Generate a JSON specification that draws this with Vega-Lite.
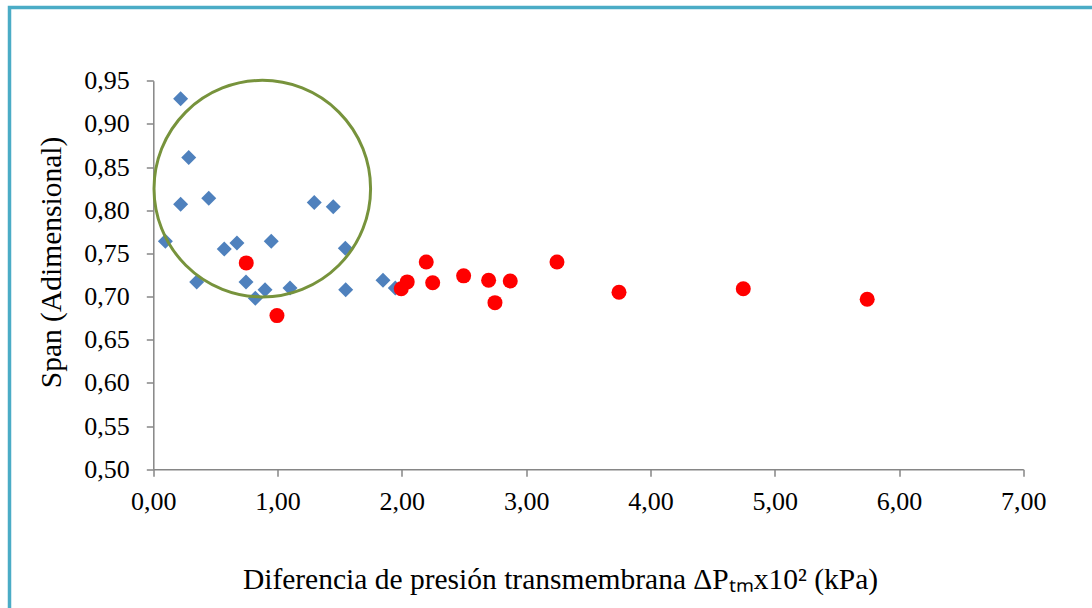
{
  "$schema": "https://vega.github.io/schema/vega-lite/v6.json",
  "width": 1100,
  "height": 620,
  "autosize": {"type": "none"},
  "padding": {"left": 9.5, "top": 7.5, "right": -17.5, "bottom": -19.5},
  "background": "white",
  "config": {
    "font": "Liberation Serif",
    "view": {"stroke": "#4BACC6", "strokeWidth": 3.5},
    "axis": {
      "grid": false,
      "domainColor": "#868686",
      "tickColor": "#868686",
      "domainWidth": 1.5,
      "tickWidth": 1.5,
      "tickSize": 7,
      "labelFont": "Liberation Serif",
      "labelFontSize": 26,
      "labelColor": "black",
      "titleFont": "Liberation Serif",
      "titleFontSize": 29.5,
      "titleFontWeight": "normal",
      "titleColor": "black",
      "labelOverlap": false,
      "labelFlush": false
    }
  },
  "datasets": {
    "puntos": [
      {"x": 0.22, "y": 0.929, "serie": "azul"},
      {"x": 0.285, "y": 0.861, "serie": "azul"},
      {"x": 0.22, "y": 0.807, "serie": "azul"},
      {"x": 0.446, "y": 0.814, "serie": "azul"},
      {"x": 0.097, "y": 0.764, "serie": "azul"},
      {"x": 0.571, "y": 0.755, "serie": "azul"},
      {"x": 0.673, "y": 0.762, "serie": "azul"},
      {"x": 0.949, "y": 0.764, "serie": "azul"},
      {"x": 1.295, "y": 0.809, "serie": "azul"},
      {"x": 1.448, "y": 0.804, "serie": "azul"},
      {"x": 1.545, "y": 0.756, "serie": "azul"},
      {"x": 0.349, "y": 0.717, "serie": "azul"},
      {"x": 0.746, "y": 0.717, "serie": "azul"},
      {"x": 0.821, "y": 0.698, "serie": "azul"},
      {"x": 0.899, "y": 0.708, "serie": "azul"},
      {"x": 1.1, "y": 0.71, "serie": "azul"},
      {"x": 1.548, "y": 0.708, "serie": "azul"},
      {"x": 1.848, "y": 0.719, "serie": "azul"},
      {"x": 1.947, "y": 0.71, "serie": "azul"},
      {"x": 0.748, "y": 0.739, "serie": "rojo"},
      {"x": 0.995, "y": 0.678, "serie": "rojo"},
      {"x": 1.995, "y": 0.709, "serie": "rojo"},
      {"x": 2.043, "y": 0.717, "serie": "rojo"},
      {"x": 2.196, "y": 0.74, "serie": "rojo"},
      {"x": 2.248, "y": 0.716, "serie": "rojo"},
      {"x": 2.497, "y": 0.724, "serie": "rojo"},
      {"x": 2.698, "y": 0.719, "serie": "rojo"},
      {"x": 2.749, "y": 0.693, "serie": "rojo"},
      {"x": 2.872, "y": 0.718, "serie": "rojo"},
      {"x": 3.248, "y": 0.74, "serie": "rojo"},
      {"x": 3.747, "y": 0.705, "serie": "rojo"},
      {"x": 4.747, "y": 0.709, "serie": "rojo"},
      {"x": 5.744, "y": 0.697, "serie": "rojo"}
    ],
    "zona": [
      {"x": 0.877, "y": 0.825}
    ]
  },
  "layer": [
    {
      "data": {"name": "puntos"},
      "transform": [{"filter": "datum.serie === 'azul'"}],
      "mark": {"type": "point", "shape": "diamond", "filled": true, "color": "#4F81BD", "opacity": 1, "size": 225},
      "encoding": {
        "x": {
          "field": "x", "type": "quantitative",
          "scale": {"domain": [0, 7], "range": [143.8, 1013.8], "nice": false, "zero": false},
          "axis": {
            "values": [0, 1, 2, 3, 4, 5, 6, 7],
            "labelExpr": "replace(format(datum.value, '.2f'), '.', ',')",
            "labelFont": "Liberation Serif",
            "offset": -158.2,
            "labelBaseline": "alphabetic",
            "labelPadding": 33.5,
            "title": "Diferencia de presión transmembrana ΔPₜₘx10² (kPa)",
            "titleFont": "Liberation Serif",
            "titleX": 550.5,
            "titleY": 118.7,
            "titleBaseline": "alphabetic",
            "titleAlign": "center"
          }
        },
        "y": {
          "field": "y", "type": "quantitative",
          "scale": {"domain": [0.5, 0.95], "range": [461.8, 73.2], "nice": false, "zero": false},
          "axis": {
            "values": [0.5, 0.55, 0.6, 0.65, 0.7, 0.75, 0.8, 0.85, 0.9, 0.95],
            "labelExpr": "replace(format(datum.value, '.2f'), '.', ',')",
            "labelFont": "Liberation Serif",
            "offset": -143.8,
            "labelPadding": 17,
            "title": "Span (Adimensional)",
            "titleFont": "Liberation Serif",
            "titleX": -93.3,
            "titleY": 254.5,
            "titleAngle": -90,
            "titleBaseline": "alphabetic",
            "titleAlign": "center"
          }
        }
      }
    },
    {
      "data": {"name": "puntos"},
      "transform": [{"filter": "datum.serie === 'rojo'"}],
      "mark": {"type": "point", "shape": "circle", "filled": true, "color": "#FF0000", "opacity": 1, "size": 225},
      "encoding": {
        "x": {"field": "x", "type": "quantitative"},
        "y": {"field": "y", "type": "quantitative"}
      }
    },
    {
      "data": {"name": "zona"},
      "mark": {"type": "point", "shape": "circle", "filled": false, "stroke": "#77933C", "strokeWidth": 3, "opacity": 1, "size": 46900},
      "encoding": {
        "x": {"field": "x", "type": "quantitative"},
        "y": {"field": "y", "type": "quantitative"}
      }
    }
  ]
}
